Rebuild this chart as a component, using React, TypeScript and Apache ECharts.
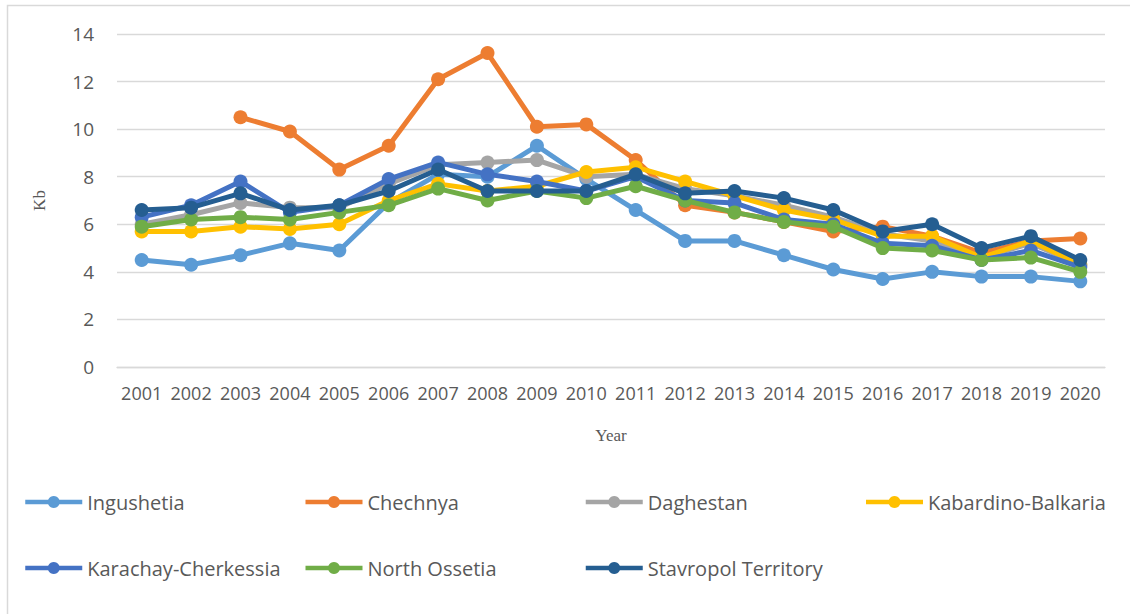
import React, { useEffect, useRef } from "react";
import * as echarts from "echarts";

const years = ["2001","2002","2003","2004","2005","2006","2007","2008","2009","2010","2011","2012","2013","2014","2015","2016","2017","2018","2019","2020"];
const yTicks = { min: 0, max: 14, interval: 2 };

const seriesNames = ["Ingushetia","Chechnya","Daghestan","Kabardino-Balkaria","Karachay-Cherkessia","North Ossetia","Stavropol Territory"];
const seriesColors = ["#5B9BD5","#ED7D31","#A5A5A5","#FFC000","#4472C4","#70AD47","#255E91"];

const ingushetia = [4.5,4.3,4.7,5.2,4.9,6.9,8.1,8.0,9.3,7.9,6.6,5.3,5.3,4.7,4.1,3.7,4.0,3.8,3.8,3.6];
const chechnya = [null,null,10.5,9.9,8.3,9.3,12.1,13.2,10.1,10.2,8.7,6.8,6.5,6.1,5.7,5.9,5.5,4.8,5.3,5.4];
const daghestan = [6.0,6.4,6.9,6.7,6.7,7.7,8.5,8.6,8.7,8.0,8.1,7.5,7.2,6.8,6.3,5.6,5.3,4.6,5.2,4.3];
const kabardino = [5.7,5.7,5.9,5.8,6.0,7.0,7.7,7.4,7.6,8.2,8.4,7.8,7.2,6.6,6.2,5.5,5.5,4.6,5.3,4.3];
const karachay = [6.3,6.8,7.8,6.5,6.8,7.9,8.6,8.1,7.8,7.4,8.0,7.0,6.9,6.2,6.0,5.2,5.1,4.5,4.9,4.2];
const northOssetia = [5.9,6.2,6.3,6.2,6.5,6.8,7.5,7.0,7.4,7.1,7.6,7.0,6.5,6.1,5.9,5.0,4.9,4.5,4.6,4.0];
const stavropol = [6.6,6.7,7.3,6.6,6.8,7.4,8.3,7.4,7.4,7.4,8.1,7.3,7.4,7.1,6.6,5.7,6.0,5.0,5.5,4.5];

const seriesData = [ingushetia, chechnya, daghestan, kabardino, karachay, northOssetia, stavropol];

export default function App() {
  const ref = useRef<HTMLDivElement>(null);
  useEffect(() => {
    if (!ref.current) return;
    const chart = echarts.init(ref.current, null, { renderer: "svg" });
    const legendCommon = {
      orient: "horizontal",
      left: 23,
      width: 1105,
      padding: 0,
      itemWidth: 57,
      itemHeight: 15,
      itemGap: 18,
      lineStyle: { width: 4.5 },
      textStyle: { fontFamily: "Open Sans", fontSize: 20, color: "#595959", width: 198, lineHeight: 22 },
      selectedMode: false,
    };
    chart.setOption({
      animation: false,
      backgroundColor: "#ffffff",
      graphic: [
        {
          type: "rect",
          shape: { x: 7.5, y: 5.5, width: 1140, height: 640 },
          style: { fill: "none", stroke: "#D9D9D9", lineWidth: 1.5 },
          silent: true,
          z: -10,
        },
      ],
      grid: { left: 117, right: 25, top: 34, bottom: 247, containLabel: false },
      legend: [
        { ...legendCommon, top: 491, data: seriesNames.slice(0, 4) },
        { ...legendCommon, top: 557, data: seriesNames.slice(4) },
      ],
      xAxis: {
        type: "category",
        data: years,
        boundaryGap: true,
        name: "Year",
        nameLocation: "middle",
        nameGap: 60,
        nameTextStyle: { fontFamily: "Liberation Serif", fontSize: 17, color: "#595959" },
        axisLine: { show: true, lineStyle: { color: "#D9D9D9", width: 1.3 } },
        axisTick: { show: false },
        axisLabel: { fontFamily: "Open Sans", fontSize: 18, color: "#595959", margin: 17, interval: 0 },
      },
      yAxis: {
        type: "value",
        min: yTicks.min,
        max: yTicks.max,
        interval: yTicks.interval,
        name: "Kb",
        nameLocation: "middle",
        nameGap: 69,
        nameRotate: 90,
        nameTextStyle: { fontFamily: "Liberation Serif", fontSize: 17, color: "#595959" },
        axisLine: { show: false },
        axisTick: { show: false },
        axisLabel: { fontFamily: "Open Sans", fontSize: 19, color: "#595959", margin: 23 },
        splitLine: { lineStyle: { color: "#D9D9D9", width: 1.3 } },
      },
      series: seriesNames.map((name, i) => ({
        name,
        type: "line",
        data: seriesData[i],
        connectNulls: false,
        symbol: "circle",
        symbolSize: 14,
        lineStyle: { width: 5, color: seriesColors[i] },
        itemStyle: { color: seriesColors[i] },
        z: 2 + i,
      })),
    });
    return () => chart.dispose();
  }, []);
  return <div ref={ref} style={{ position: "absolute", left: 0, top: 0, width: 1130, height: 614 }} />;
}
